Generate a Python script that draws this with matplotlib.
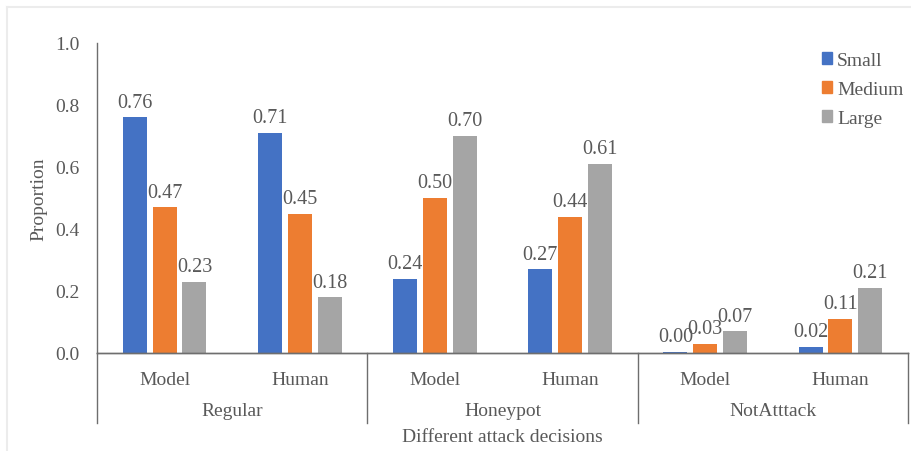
import matplotlib
matplotlib.use("Agg")
import matplotlib.pyplot as plt
from matplotlib.patches import Patch
from matplotlib.lines import Line2D
import numpy as np

groups = ["Regular", "Honeypot", "NotAtttack"]
subcats = ["Model", "Human", "Model", "Human", "Model", "Human"]
series_names = ["Small", "Medium", "Large"]
small = [0.76, 0.71, 0.24, 0.27, 0.004, 0.02]
medium = [0.47, 0.45, 0.50, 0.44, 0.03, 0.11]
large = [0.23, 0.18, 0.70, 0.61, 0.07, 0.21]
small_lbl = ["0.76", "0.71", "0.24", "0.27", "0.00", "0.02"]
medium_lbl = ["0.47", "0.45", "0.50", "0.44", "0.03", "0.11"]
large_lbl = ["0.23", "0.18", "0.70", "0.61", "0.07", "0.21"]
yticks = [0.0, 0.2, 0.4, 0.6, 0.8, 1.0]
colors = ["#4472C4", "#ED7D31", "#A5A5A5"]

plt.rcParams['font.family'] = ['Liberation Serif', 'DejaVu Serif']
txt = "#595959"
linec = "#6e6e6e"
fs = 14

W, H = 911, 452
fig = plt.figure(figsize=(W / 100, H / 100), dpi=100)
ax = fig.add_axes([97 / W, (H - 354) / H, (908 - 97) / W, (354 - 44) / H])

x = np.arange(len(subcats))
bw = 0.177
pitch = 0.221
for i, (vals, lbls) in enumerate(zip([small, medium, large], [small_lbl, medium_lbl, large_lbl])):
    bars = ax.bar(x + (i - 1) * pitch, vals, bw, color=colors[i], label=series_names[i])
    ax.bar_label(bars, labels=lbls, padding=4, fontsize=14.5, color=txt)

ax.set_xlim(-0.5, len(subcats) - 0.5)
ax.set_ylim(0, 1.0)
ax.set_yticks(yticks)
ax.set_yticklabels([f"{v:.1f}" for v in yticks])
ax.tick_params(axis='y', length=0, pad=12.5, labelsize=fs, labelcolor=txt)
ax.tick_params(axis='x', length=0, labelbottom=False)
for s in ["top", "right"]:
    ax.spines[s].set_visible(False)
for s in ["left", "bottom"]:
    ax.spines[s].set_color(linec)
    ax.spines[s].set_linewidth(1.0)

tr = ax.get_xaxis_transform()
for xi, name in zip(x, subcats):
    ax.text(xi, -0.084, name, transform=tr, ha='center', va='center', fontsize=fs, color=txt)
for gi, g in enumerate(groups):
    ax.text(2 * gi + 0.5, -0.187, g, transform=tr, ha='center', va='center', fontsize=fs, color=txt)
for b in [-0.5, 1.5, 3.5, 5.5]:
    ax.plot([b, b], [0, -0.226], transform=tr, color=linec, lw=1.0, clip_on=False)
ax.plot([-0.5, 5.5], [0, 0], transform=tr, color=linec, lw=1.0, clip_on=False)
ax.text(2.5, -0.268, "Different attack decisions", transform=tr, ha='center', va='center',
        fontsize=fs, color=txt)

ax.set_ylabel("Proportion", fontsize=fs, color=txt, labelpad=6)

handles = [Patch(color=c) for c in colors]
leg = ax.legend(handles, series_names, loc='upper left', bbox_to_anchor=((810 - 97) / (908 - 97), 1.01),
                frameon=False, fontsize=fs, handlelength=0.55, handleheight=0.55,
                handletextpad=0.25, labelspacing=0.62, borderaxespad=0.2)
for t in leg.get_texts():
    t.set_color(txt)

# faint page frame
fig.add_artist(Line2D([7 / W, 7 / W], [0, 1 - 8 / H], transform=fig.transFigure, color="#ececec", lw=1.5))
fig.add_artist(Line2D([7 / W, 1], [1 - 8 / H, 1 - 8 / H], transform=fig.transFigure, color="#ececec", lw=1.5))

fig.savefig("out.png", dpi=100, facecolor="white")
